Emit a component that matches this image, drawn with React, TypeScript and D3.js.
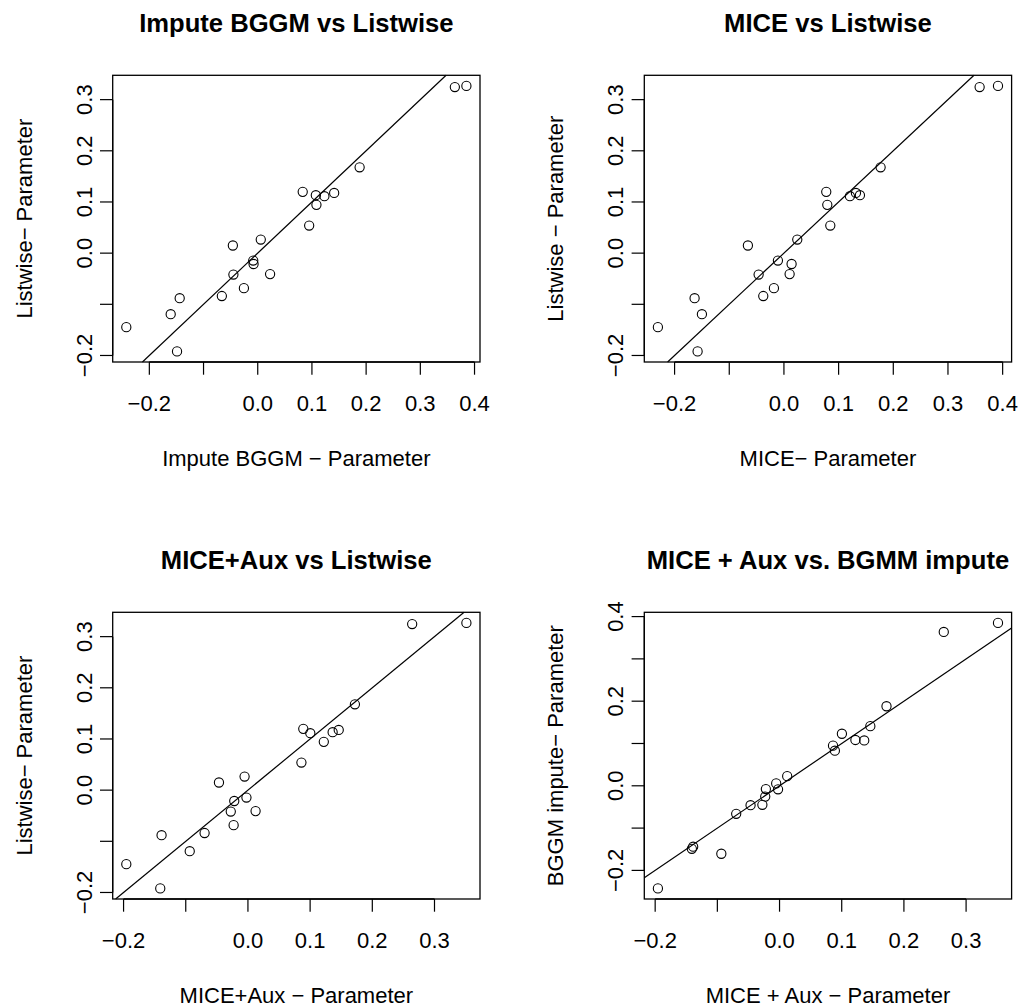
import React from "react";
import * as d3 from "d3";

// Parameter-level differences (estimate − parameter), 21 parameters
const listwise = [-0.192, -0.1446, -0.1193, -0.0881, -0.0838, -0.0684, -0.0418, -0.041, -0.0212, -0.0145, 0.0149, 0.0266, 0.0539, 0.0944, 0.1113, 0.1132, 0.1176, 0.1198, 0.1678, 0.3246, 0.3268];
const bggm = [-0.1489, -0.2425, -0.1606, -0.144, -0.0662, -0.0255, -0.0449, 0.0228, -0.0077, -0.0083, -0.0459, 0.0056, 0.0949, 0.1083, 0.123, 0.1072, 0.141, 0.083, 0.188, 0.3637, 0.385];
const mice = [-0.1579, -0.2305, -0.15, -0.1634, -0.0378, -0.0183, -0.0463, 0.0104, 0.014, -0.011, -0.0659, 0.0244, 0.0848, 0.0793, 0.1207, 0.139, 0.1317, 0.0774, 0.1768, 0.3579, 0.3915];
const miceAux = [-0.141, -0.1956, -0.0936, -0.1389, -0.0697, -0.023, -0.0276, 0.0123, -0.022, -0.0024, -0.0466, -0.0054, 0.086, 0.122, 0.1003, 0.1362, 0.146, 0.089, 0.172, 0.2641, 0.3513];

const titles = ["Impute BGGM vs Listwise", "MICE vs Listwise", "MICE+Aux vs Listwise", "MICE + Aux vs. BGMM impute"];
const xLabels = ["Impute BGGM \u2212 Parameter", "MICE\u2212 Parameter", "MICE+Aux \u2212 Parameter", "MICE + Aux \u2212 Parameter"];
const yLabels = ["Listwise\u2212 Parameter", "Listwise \u2212 Parameter", "Listwise\u2212 Parameter", "BGGM impute\u2212 Parameter"];

const ticksWide = [-0.2, -0.1, 0, 0.1, 0.2, 0.3, 0.4];
const ticksWideLabels = ["\u22120.2", "", "0.0", "0.1", "0.2", "0.3", "0.4"];
const ticksNarrow = [-0.2, -0.1, 0, 0.1, 0.2, 0.3];
const ticksNarrowLabels = ["\u22120.2", "", "0.0", "0.1", "0.2", "0.3"];
const ticksBggmY = [-0.2, -0.1, 0, 0.1, 0.2, 0.3, 0.4];
const ticksBggmYLabels = ["\u22120.2", "", "0.0", "", "0.2", "", "0.4"];

const FONT = "'Liberation Sans', Arial, Helvetica, sans-serif";

type Panel = {
  xs: number[];
  ys: number[];
  title: string;
  xLabel: string;
  yLabel: string;
  xTicks: number[];
  xTickLabels: string[];
  yTicks: number[];
  yTickLabels: string[];
  left: number;
  top: number;
};

const BOX_W = 367.3;
const BOX_H = 286.7;
const COL_LEFT = [112.7, 644.3];
const ROW_TOP = [75.3, 612.3];

const panels: Panel[] = [
  { xs: bggm, ys: listwise, title: titles[0], xLabel: xLabels[0], yLabel: yLabels[0], xTicks: ticksWide, xTickLabels: ticksWideLabels, yTicks: ticksNarrow, yTickLabels: ticksNarrowLabels, left: COL_LEFT[0], top: ROW_TOP[0] },
  { xs: mice, ys: listwise, title: titles[1], xLabel: xLabels[1], yLabel: yLabels[1], xTicks: ticksWide, xTickLabels: ticksWideLabels, yTicks: ticksNarrow, yTickLabels: ticksNarrowLabels, left: COL_LEFT[1], top: ROW_TOP[0] },
  { xs: miceAux, ys: listwise, title: titles[2], xLabel: xLabels[2], yLabel: yLabels[2], xTicks: ticksNarrow, xTickLabels: ticksNarrowLabels, yTicks: ticksNarrow, yTickLabels: ticksNarrowLabels, left: COL_LEFT[0], top: ROW_TOP[1] },
  { xs: miceAux, ys: bggm, title: titles[3], xLabel: xLabels[3], yLabel: yLabels[3], xTicks: ticksNarrow, xTickLabels: ticksNarrowLabels, yTicks: ticksBggmY, yTickLabels: ticksBggmYLabels, left: COL_LEFT[1], top: ROW_TOP[1] },
];

function rDomain(v: number[]): [number, number] {
  const [mn, mx] = d3.extent(v) as [number, number];
  const e = (mx - mn) * 0.04;
  return [mn - e, mx + e];
}

function PanelView({ p }: { p: Panel }) {
  const x = d3.scaleLinear().domain(rDomain(p.xs)).range([p.left, p.left + BOX_W]);
  const y = d3.scaleLinear().domain(rDomain(p.ys)).range([p.top + BOX_H, p.top]);
  const [x0, x1] = x.domain();
  const [y0, y1] = y.domain();
  const lo = Math.max(x0, y0);
  const hi = Math.min(x1, y1);
  const bottom = p.top + BOX_H;
  const cx = p.left + BOX_W / 2;
  const cy = p.top + BOX_H / 2;
  const tickLen = 12.7;
  return (
    <g>
      <text x={cx} y={p.top - 43} textAnchor="middle" fontFamily={FONT} fontWeight="bold" fontSize={25.6}>{p.title}</text>
      <rect x={p.left} y={p.top} width={BOX_W} height={BOX_H} fill="none" stroke="#000" strokeWidth={1.3} />
      <line x1={x(lo)} y1={y(lo)} x2={x(hi)} y2={y(hi)} stroke="#000" strokeWidth={1.2} />
      {p.xs.map((v, i) => (
        <circle key={i} cx={x(v)} cy={y(p.ys[i])} r={4.6} fill="none" stroke="#000" strokeWidth={1.1} />
      ))}
      {/* x axis */}
      <line x1={x(p.xTicks[0])} x2={x(p.xTicks[p.xTicks.length - 1])} y1={bottom} y2={bottom} stroke="#000" strokeWidth={1.3} />
      {p.xTicks.map((t, i) => (
        <g key={"xt" + i}>
          <line x1={x(t)} x2={x(t)} y1={bottom} y2={bottom + tickLen} stroke="#000" strokeWidth={1.2} />
          {p.xTickLabels[i] !== "" && (
            <text x={x(t)} y={bottom + 49.4} textAnchor="middle" fontFamily={FONT} fontSize={22}>{p.xTickLabels[i]}</text>
          )}
        </g>
      ))}
      <text x={cx} y={bottom + 104} textAnchor="middle" fontFamily={FONT} fontSize={22}>{p.xLabel}</text>
      {/* y axis */}
      <line x1={p.left} x2={p.left} y1={y(p.yTicks[0])} y2={y(p.yTicks[p.yTicks.length - 1])} stroke="#000" strokeWidth={1.3} />
      {p.yTicks.map((t, i) => (
        <g key={"yt" + i}>
          <line x1={p.left - tickLen} x2={p.left} y1={y(t)} y2={y(t)} stroke="#000" strokeWidth={1.2} />
          {p.yTickLabels[i] !== "" && (
            <text transform={`translate(${p.left - 21},${y(t)}) rotate(-90)`} textAnchor="middle" fontFamily={FONT} fontSize={22}>{p.yTickLabels[i]}</text>
          )}
        </g>
      ))}
      <text transform={`translate(${p.left - 81},${cy}) rotate(-90)`} textAnchor="middle" fontFamily={FONT} fontSize={22}>{p.yLabel}</text>
    </g>
  );
}

export default function App() {
  return (
    <svg width={1022} height={1007} style={{ position: "absolute", left: 0, top: 0, background: "#fff" }}>
      <rect x={0} y={0} width={1022} height={1007} fill="#fff" />
      {panels.map((p, i) => (
        <PanelView key={i} p={p} />
      ))}
    </svg>
  );
}
